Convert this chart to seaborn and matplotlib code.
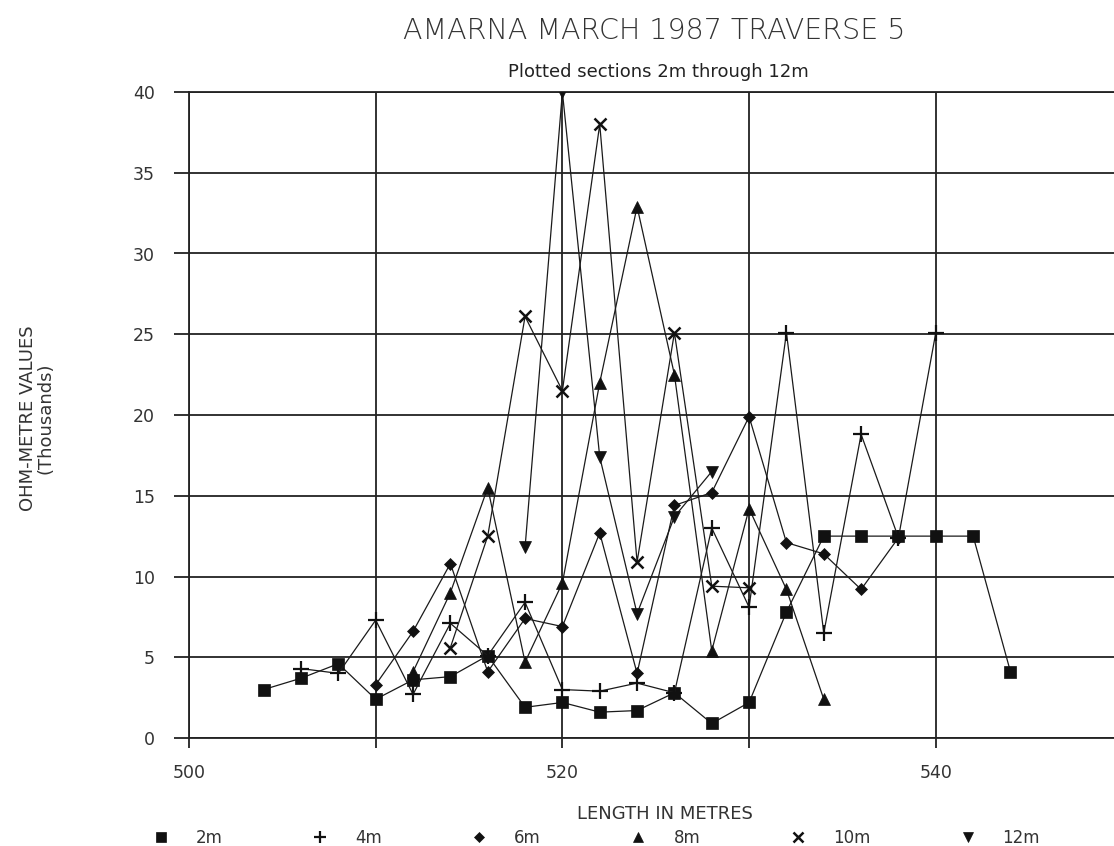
import matplotlib
matplotlib.use("Agg")
import matplotlib.pyplot as plt
from matplotlib.lines import Line2D
import seaborn as sns
import pandas as pd

# ---- data (thousands of ohm-metres) ----
x_2m = [504, 506, 508, 510, 512, 514, 516, 518, 520, 522, 524, 526, 528, 530, 532, 534, 536, 538, 540, 542, 544]
y_2m = [3.0, 3.7, 4.6, 2.4, 3.6, 3.8, 5.1, 1.9, 2.2, 1.6, 1.7, 2.8, 0.9, 2.2, 7.8, 12.5, 12.5, 12.5, 12.5, 12.5, 4.1]

x_4m = [506, 508, 510, 512, 514, 516, 518, 520, 522, 524, 526, 528, 530, 532, 534, 536, 538, 540]
y_4m = [4.3, 4.0, 7.3, 2.7, 7.1, 5.1, 8.4, 3.0, 2.9, 3.4, 2.8, 13.0, 8.1, 25.1, 6.5, 18.8, 12.4, 25.1]

x_6m = [510, 512, 514, 516, 518, 520, 522, 524, 526, 528, 530, 532, 534, 536, 538]
y_6m = [3.3, 6.6, 10.8, 4.1, 7.4, 6.9, 12.7, 4.0, 14.4, 15.2, 19.9, 12.1, 11.4, 9.2, 12.4]

x_8m = [512, 514, 516, 518, 520, 522, 524, 526, 528, 530, 532, 534]
y_8m = [4.1, 9.0, 15.5, 4.7, 9.6, 22.0, 32.9, 22.5, 5.4, 14.2, 9.2, 2.4]

x_10m = [514, 516, 518, 520, 522, 524, 526, 528, 530]
y_10m = [5.6, 12.5, 26.1, 21.5, 38.0, 10.9, 25.1, 9.4, 9.3]

x_12m = [518, 520, 522, 524, 526, 528]
y_12m = [11.8, 40.0, 17.4, 7.7, 13.7, 16.5]

series_labels = ["2m", "4m", "6m", "8m", "10m", "12m"]
x_ticks = [500, 510, 520, 530, 540]
x_tick_labels = ["500", "", "520", "", "540"]
y_ticks = [0, 5, 10, 15, 20, 25, 30, 35, 40]

title = "AMARNA MARCH 1987 TRAVERSE 5"
subtitle = "Plotted sections 2m through 12m"
x_label = "LENGTH IN METRES"
y_label = "OHM-METRE VALUES\n(Thousands)"

# ---- build table ----
frames = []
for lab, xs, ys in zip(series_labels,
                       [x_2m, x_4m, x_6m, x_8m, x_10m, x_12m],
                       [y_2m, y_4m, y_6m, y_8m, y_10m, y_12m]):
    frames.append(pd.DataFrame({"length": xs, "value": ys, "section": lab}))
df = pd.concat(frames, ignore_index=True)

sns.set_theme(style="white")
plt.rcParams['font.family'] = ['DejaVu Sans']

fig = plt.figure(figsize=(11.14, 8.46), dpi=100)
W, H = 1114, 846
X0 = 189
PXM = 18.67
ax = fig.add_axes([X0 / W, (H - 738) / H, (W - X0) / W, (738 - 92) / H])

marker_style = {
    "2m":  dict(marker="s", markersize=8.5, markeredgewidth=0.5),
    "4m":  dict(marker="+", markersize=11, markeredgewidth=1.6),
    "6m":  dict(marker="D", markersize=6.0, markeredgewidth=0.5),
    "8m":  dict(marker="^", markersize=8.5, markeredgewidth=0.5),
    "10m": dict(marker="x", markersize=9, markeredgewidth=1.8),
    "12m": dict(marker="v", markersize=8.5, markeredgewidth=0.5),
}

for lab in series_labels:
    sub = df[df["section"] == lab]
    st = marker_style[lab]
    sns.lineplot(data=sub, x="length", y="value", ax=ax, color="#1a1a1a",
                 linewidth=0.9, markerfacecolor="#111111", markeredgecolor="#111111",
                 estimator=None, sort=False, zorder=3, **st)

ax.set_xlim(500, 500 + (W - X0) / PXM)
ax.set_ylim(0, 40)
ax.set_xticks(x_ticks)
ax.set_xticklabels(x_tick_labels)
ax.set_yticks(y_ticks)
ax.grid(True, color="#222222", linewidth=1.3)
ax.set_axisbelow(True)
for s in ["left", "top", "bottom"]:
    ax.spines[s].set_color("#222222")
    ax.spines[s].set_linewidth(1.3)
ax.spines["right"].set_visible(False)
ax.tick_params(axis="both", direction="out", colors="#222222", labelcolor="#333333",
               width=1.3, labelsize=12.5)
ax.tick_params(axis="y", left=True, length=10.5, pad=14)
ax.tick_params(axis="x", bottom=True, length=7.5, pad=11)
ax.set_xlabel("")
ax.set_ylabel("")

fig.text(654 / W, 1 - 31 / H, title, ha="center", va="center", fontsize=20.5,
         color="#333333", fontweight="light")
fig.text(658 / W, 1 - 72 / H, subtitle, ha="center", va="center", fontsize=13,
         color="#222222")
fig.text(665 / W, 1 - 814 / H, x_label, ha="center", va="center", fontsize=13,
         color="#333333")
fig.text(37 / W, 1 - 418 / H, y_label, ha="center", va="center", fontsize=13,
         rotation=90, color="#333333", linespacing=0.95)

handles = []
for lab in series_labels:
    st = dict(marker_style[lab])
    st["markersize"] = st["markersize"] * 0.8
    handles.append(Line2D([], [], linestyle="none", color="#111111",
                          markerfacecolor="#111111", markeredgecolor="#111111", **st))
fig.legend(handles, series_labels, loc="center", bbox_to_anchor=(592 / W, 1 - 838 / H),
           ncol=6, frameon=False, fontsize=12, handletextpad=1.1, columnspacing=4.85,
           labelcolor="#333333")

fig.savefig("out.png", dpi=100)
